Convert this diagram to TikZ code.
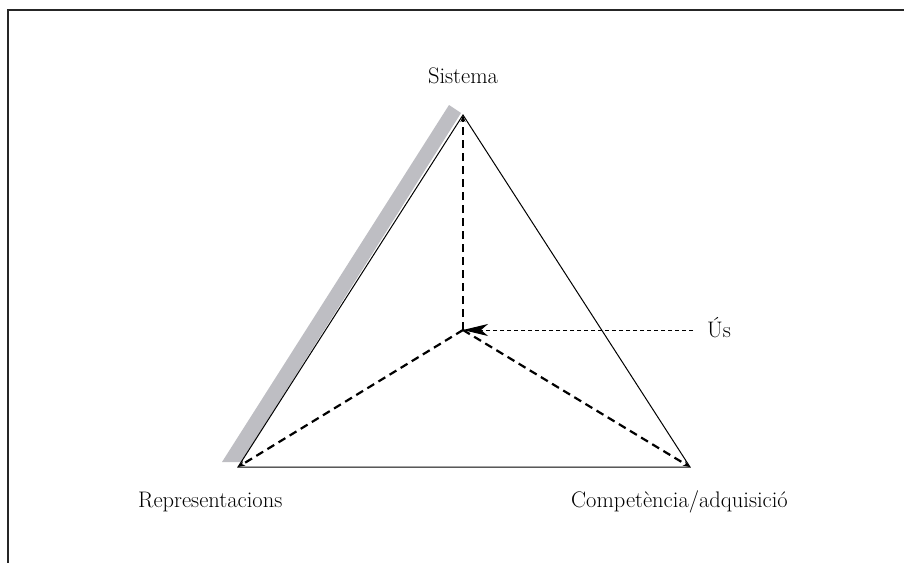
\documentclass[tikz,border=0pt]{standalone}
\usetikzlibrary{arrows.meta}
\definecolor{bandgray}{RGB}{190,190,195}
\begin{document}
\begin{tikzpicture}[x=1pt,y=-1pt,
  lbl/.style={font=\fontsize{22.5}{26}\selectfont, inner sep=0pt, anchor=base},
  edge/.style={line width=1pt, black},
  spoke/.style={line width=2.2pt, dash pattern=on 8pt off 5pt, -{Stealth[length=7pt,width=5pt,inset=2pt]}},
  usline/.style={line width=1pt, dash pattern=on 4pt off 3pt, -{Stealth[length=25pt,width=12pt,inset=7pt]}},
  frame/.style={line width=1.3pt, black!85}]
\useasboundingbox (0,0) rectangle (904,563);
\draw[frame] (904,10) -- (8,10) -- (8,563);
\fill[bandgray] (222,462) -- (241,462) -- (461,113) -- (449,105) -- cycle;
\coordinate (S) at (463,115);
\coordinate (R) at (238,467);
\coordinate (C) at (690,467);
\coordinate (O) at (463,330);
\coordinate (U) at (693,330);
\draw[edge] (S) -- (R) -- (C) -- cycle;
\draw[spoke] (O) -- (S);
\draw[spoke] (O) -- (R);
\draw[spoke] (O) -- (C);
\draw[usline] (U) -- (O);
\node[lbl] (ls) at (463,83) {Sistema};
\node[lbl, anchor=base west] (lr) at (138,507) {Representacions};
\node[lbl, anchor=base east] (lc) at (788,507) {Competència/adquisició};
\node[lbl, anchor=base west] (lu) at (707,337) {Ús};
\end{tikzpicture}
\end{document}
